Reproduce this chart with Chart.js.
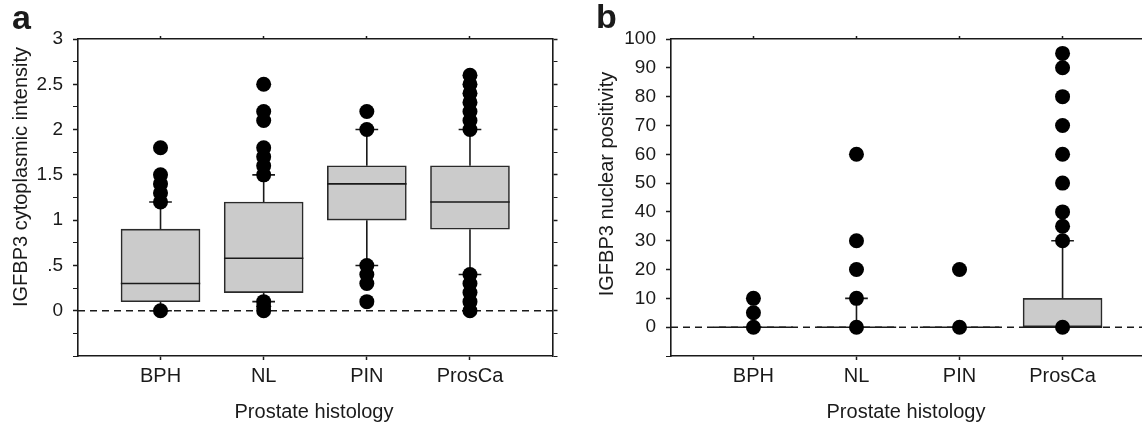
<!DOCTYPE html>
<html>
<head>
<meta charset="utf-8">
<script src="https://cdn.jsdelivr.net/npm/chart.js@4.4.1/dist/chart.umd.min.js"></script>
<style>
  html, body { margin: 0; padding: 0; background: #fff; overflow: hidden; }
  body { width: 1142px; height: 423px; position: relative; }
  .panel { position: absolute; top: 0; }
  #panelA { left: 0; }
  #panelB { left: 560px; }
</style>
</head>
<body>
<div class="panel" id="panelA"><canvas id="graficoA" width="560" height="423"></canvas></div>
<div class="panel" id="panelB"><canvas id="graficoB" width="600" height="423"></canvas></div>
<script>
const categorias = ['BPH', 'NL', 'PIN', 'ProsCa'];

// panel a: intensidad citoplasmica
const citoQ1 = [0.1, 0.2, 1.0, 0.9];
const citoMediana = [0.3, 0.58, 1.4, 1.2];
const citoQ3 = [0.9, 1.2, 1.6, 1.6];
const citoBigoteInf = [0, 0.1, 0.5, 0.4];
const citoBigoteSup = [1.2, 1.5, 2.0, 2.0];
const citoAtipicos = [
  [0, 1.2, 1.3, 1.4, 1.5, 1.8],
  [0, 0.05, 0.1, 1.5, 1.6, 1.7, 1.8, 2.1, 2.2, 2.5],
  [0.1, 0.3, 0.4, 0.5, 2.0, 2.2],
  [0, 0.1, 0.2, 0.3, 0.4, 2.0, 2.1, 2.2, 2.3, 2.4, 2.5, 2.6]
];
const citoValoresEje = [0, 0.5, 1, 1.5, 2, 2.5, 3];
const citoEtiquetasEje = ['0', '.5', '1', '1.5', '2', '2.5', '3'];

// panel b: positividad nuclear
const nucQ1 = [0, 0, 0, 0];
const nucMediana = [0, 0, 0, 0];
const nucQ3 = [0, 0, 0, 10];
const nucBigoteInf = [0, 0, 0, 0];
const nucBigoteSup = [0, 10, 0, 30];
const nucAtipicos = [
  [0, 5, 10],
  [0, 10, 20, 30, 60],
  [0, 20],
  [0, 30, 35, 40, 50, 60, 70, 80, 90, 95]
];
const nucValoresEje = [0, 10, 20, 30, 40, 50, 60, 70, 80, 90, 100];
const nucEtiquetasEje = ['0', '10', '20', '30', '40', '50', '60', '70', '80', '90', '100'];

const X_MIN = 0.2;
const X_MAX = 4.8;
const MEDIO_CAJA = 0.385;
const MEDIO_TOPE = 0.11;
const NEGRO = '#1a1a1a';
const FUENTE = '"Liberation Sans", Arial, sans-serif';

const pluginTextos = {
  id: 'textos',
  afterDraw(chart, args, opts) {
    const ctx = chart.ctx;
    ctx.save();
    ctx.fillStyle = NEGRO;
    ctx.font = 'bold 34px ' + FUENTE;
    ctx.textAlign = 'left';
    ctx.textBaseline = 'alphabetic';
    ctx.fillText(opts.letra, opts.letraX, opts.letraY);

    ctx.font = '20px ' + FUENTE;
    ctx.textAlign = 'center';
    ctx.fillText(opts.tituloX, opts.tituloXx, 418);

    ctx.translate(opts.tituloYx, opts.tituloYy);
    ctx.rotate(-Math.PI / 2);
    ctx.fillText(opts.tituloY, 0, 0);
    ctx.restore();
  }
};

function lineasCaja(q1, mediana, q3, inf, sup) {
  const puntos = [];
  categorias.forEach((c, i) => {
    const x = i + 1;
    puntos.push({ x: x - MEDIO_CAJA, y: mediana[i] }, { x: x + MEDIO_CAJA, y: mediana[i] }, { x: x, y: null });
    if (sup[i] > q3[i]) {
      puntos.push({ x: x, y: q3[i] }, { x: x, y: sup[i] }, { x: x, y: null });
      puntos.push({ x: x - MEDIO_TOPE, y: sup[i] }, { x: x + MEDIO_TOPE, y: sup[i] }, { x: x, y: null });
    }
    if (inf[i] < q1[i]) {
      puntos.push({ x: x, y: q1[i] }, { x: x, y: inf[i] }, { x: x, y: null });
      puntos.push({ x: x - MEDIO_TOPE, y: inf[i] }, { x: x + MEDIO_TOPE, y: inf[i] }, { x: x, y: null });
    }
  });
  return puntos;
}

function crearPanel(idCanvas, conf) {
  const cajas = categorias.map((c, i) => ({ x: i + 1, y: [conf.q1[i], conf.q3[i]] }));
  const atipicos = [];
  conf.atipicos.forEach((lista, i) => lista.forEach(v => atipicos.push({ x: i + 1, y: v })));

  const ticksCategoria = scale => {
    scale.ticks = categorias.map((c, i) => ({ value: i + 1 }));
  };
  const ticksY = scale => {
    const t = [];
    for (let v = conf.yMin; v <= conf.yMax + 1e-9; v += conf.yPaso) {
      t.push({ value: Math.round(v * 1000) / 1000 });
    }
    scale.ticks = t;
  };
  const esMayor = v => conf.valoresEje.some(t => Math.abs(t - v) < 1e-6);

  return new Chart(document.getElementById(idCanvas), {
    type: 'bar',
    data: {
      datasets: [
        {
          type: 'scatter',
          data: atipicos,
          xAxisID: 'x',
          yAxisID: 'y',
          pointRadius: 7.5,
          pointHoverRadius: 7.5,
          pointBackgroundColor: '#000',
          pointBorderWidth: 0,
          order: 1
        },
        {
          type: 'line',
          data: lineasCaja(conf.q1, conf.mediana, conf.q3, conf.inf, conf.sup),
          xAxisID: 'x',
          yAxisID: 'y',
          borderColor: NEGRO,
          borderWidth: 1.6,
          pointRadius: 0,
          spanGaps: false,
          order: 2
        },
        {
          type: 'bar',
          data: cajas,
          xAxisID: 'x',
          yAxisID: 'y',
          backgroundColor: '#cbcbcb',
          borderColor: '#2a2a2a',
          borderWidth: 1.6,
          borderSkipped: false,
          barThickness: 79,
          order: 3
        },
        {
          type: 'line',
          data: [{ x: X_MIN, y: 0 }, { x: X_MAX, y: 0 }],
          xAxisID: 'x',
          yAxisID: 'y',
          borderColor: NEGRO,
          borderWidth: 1.6,
          borderDash: [7, 5],
          pointRadius: 0,
          order: 4
        }
      ]
    },
    options: {
      responsive: false,
      animation: false,
      layout: { padding: 0 },
      plugins: {
        legend: { display: false },
        tooltip: { enabled: false },
        textos: conf.textos
      },
      scales: {
        x: {
          type: 'linear',
          position: 'bottom',
          offset: false,
          min: X_MIN,
          max: X_MAX,
          afterBuildTicks: ticksCategoria,
          afterFit: scale => { scale.height = 67; },
          ticks: {
            callback: v => categorias[v - 1],
            color: NEGRO,
            font: { family: FUENTE, size: 20 },
            padding: 4,
            maxRotation: 0,
            autoSkip: false
          },
          grid: { offset: false, drawOnChartArea: false, tickLength: 4, tickColor: NEGRO, tickWidth: 1.5 },
          border: { color: NEGRO, width: 1.6 }
        },
        x2: {
          type: 'linear',
          position: 'top',
          offset: false,
          min: X_MIN,
          max: X_MAX,
          afterBuildTicks: ticksCategoria,
          afterFit: scale => { scale.height = 39; },
          ticks: { display: false },
          grid: { offset: false, drawOnChartArea: false, tickLength: 3, tickColor: NEGRO, tickWidth: 1.5 },
          border: { color: NEGRO, width: 1.6 }
        },
        y: {
          type: 'linear',
          position: 'left',
          min: conf.yMin,
          max: conf.yMax,
          afterBuildTicks: ticksY,
          afterFit: scale => { scale.width = conf.anchoEjeY; },
          ticks: {
            callback: v => {
              const i = conf.valoresEje.findIndex(t => Math.abs(t - v) < 1e-6);
              return i >= 0 ? conf.etiquetasEje[i] : '';
            },
            color: NEGRO,
            font: { family: FUENTE, size: 19 },
            padding: 10,
            autoSkip: false
          },
          grid: {
            drawOnChartArea: false,
            tickLength: 5,
            tickColor: NEGRO,
            tickWidth: ctx => (esMayor(ctx.tick.value) ? 1.5 : 1)
          },
          border: { color: NEGRO, width: 1.6 }
        },
        y2: {
          type: 'linear',
          position: 'right',
          min: conf.yMin,
          max: conf.yMax,
          afterBuildTicks: ticksY,
          afterFit: scale => { scale.width = conf.anchoEjeDer; },
          ticks: { display: false },
          grid: {
            drawOnChartArea: false,
            tickLength: 5,
            tickColor: NEGRO,
            tickWidth: ctx => (esMayor(ctx.tick.value) ? 1.5 : 1)
          },
          border: { color: NEGRO, width: 1.6 }
        }
      }
    },
    plugins: [pluginTextos]
  });
}

crearPanel('graficoA', {
  q1: citoQ1,
  mediana: citoMediana,
  q3: citoQ3,
  inf: citoBigoteInf,
  sup: citoBigoteSup,
  atipicos: citoAtipicos,
  valoresEje: citoValoresEje,
  etiquetasEje: citoEtiquetasEje,
  yMin: -0.5,
  yMax: 3,
  yPaso: 0.25,
  anchoEjeY: 78,
  anchoEjeDer: 7,
  textos: {
    letra: 'a', letraX: 12, letraY: 29,
    tituloX: 'Prostate histology', tituloXx: 314,
    tituloY: 'IGFBP3 cytoplasmic intensity', tituloYx: 27, tituloYy: 177
  }
});

crearPanel('graficoB', {
  q1: nucQ1,
  mediana: nucMediana,
  q3: nucQ3,
  inf: nucBigoteInf,
  sup: nucBigoteSup,
  atipicos: nucAtipicos,
  valoresEje: nucValoresEje,
  etiquetasEje: nucEtiquetasEje,
  yMin: -10,
  yMax: 100,
  yPaso: 10,
  anchoEjeY: 111,
  anchoEjeDer: 15,
  textos: {
    letra: 'b', letraX: 36, letraY: 28,
    tituloX: 'Prostate histology', tituloXx: 346,
    tituloY: 'IGFBP3 nuclear positivity', tituloYx: 53, tituloYy: 184
  }
});
</script>
</body>
</html>
